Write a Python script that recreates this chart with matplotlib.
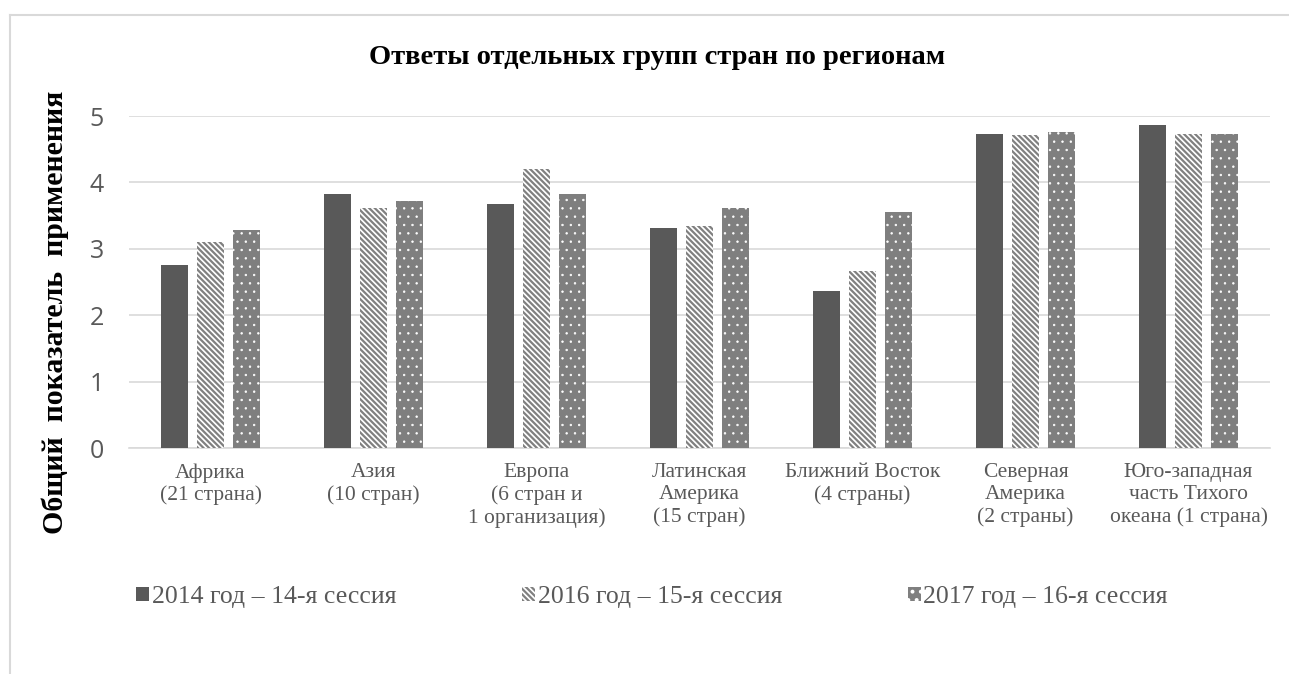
import matplotlib
matplotlib.use("Agg")
import matplotlib.pyplot as plt
from matplotlib.lines import Line2D
import numpy as np

# data
regions = [
    "Африка\n(21 страна)",
    "Азия\n(10 стран)",
    "Европа\n(6 стран и\n1 организация)",
    "Латинская\nАмерика\n(15 стран)",
    "Ближний Восток\n(4 страны)",
    "Северная\nАмерика\n(2 страны)",
    "Юго-западная\nчасть Тихого\nокеана (1 страна)",
]
series_names = [
    "2014 год – 14-я сессия",
    "2016 год – 15-я сессия",
    "2017 год – 16-я сессия",
]
vals_2014 = [2.76, 3.82, 3.68, 3.32, 2.36, 4.73, 4.86]
vals_2016 = [3.10, 3.62, 4.20, 3.34, 2.66, 4.71, 4.73]
vals_2017 = [3.28, 3.72, 3.82, 3.61, 3.55, 4.76, 4.73]

plt.rcParams['hatch.linewidth'] = 1.6
serif = ['Liberation Serif', 'DejaVu Serif']
grey_txt = '#595959'

fig = plt.figure(figsize=(12.89, 6.74), dpi=100)
ax = fig.add_axes([129 / 1289, 1 - 448 / 674, (1270 - 129) / 1289, (448 - 116) / 674])

x = np.arange(len(regions))
step = 0.22
width = 0.166

ax.bar(x - step, vals_2014, width, color='#595959', linewidth=0, label=series_names[0], zorder=3)
ax.bar(x, vals_2016, width, facecolor='white', edgecolor='#808080', hatch='\\\\\\\\\\\\',
       linewidth=0, label=series_names[1], zorder=3)
dots = ax.bar(x + step, vals_2017, width, facecolor='#7f7f7f', edgecolor='white', hatch='..',
              linewidth=0, label=series_names[2], zorder=3)
# small white dots, thinner outline than the stripes
for b in dots:
    if hasattr(b, 'set_hatch_linewidth'):
        b.set_hatch_linewidth(0.5)

ax.set_xlim(-0.5, len(regions) - 0.5)
ax.set_ylim(0, 5)
ax.set_yticks(range(6))
ax.yaxis.grid(True, color='#d9d9d9', linewidth=1.2, zorder=0)
ax.set_axisbelow(True)
for s in ['top', 'right', 'left']:
    ax.spines[s].set_visible(False)
ax.spines['bottom'].set_color('#d9d9d9')
ax.spines['bottom'].set_linewidth(1.2)
ax.tick_params(length=0)
ax.tick_params(axis='y', labelsize=18, labelcolor=grey_txt, pad=18)
for lab in ax.get_yticklabels():
    lab.set_family(['Open Sans', 'DejaVu Sans'])

ax.set_xticks(x)
ax.set_xticklabels(regions, fontsize=15.5, color=grey_txt, family=serif, linespacing=1.2)
ax.tick_params(axis='x', pad=11)

fig.text(657 / 1289, 1 - 57 / 674, "Ответы отдельных групп стран по регионам",
         ha='center', va='center', fontsize=20.5, fontweight='bold', family=serif)
fig.text(55 / 1289, 1 - 312 / 674, "Общий  показатель  применения",
         ha='center', va='center', rotation=90, fontsize=21.5, fontweight='bold', family=serif)

leg = fig.legend(loc='center', bbox_to_anchor=(652 / 1289, 1 - 597 / 674), ncol=3,
                 frameon=False, handlelength=0.5, handleheight=0.5, handletextpad=0.1,
                 columnspacing=4.9, prop={'family': serif, 'size': 18.5})
for t in leg.get_texts():
    t.set_color(grey_txt)

# outer frame (top and left edges visible in the reference)
fig.add_artist(Line2D([10 / 1289, 1], [1 - 15 / 674, 1 - 15 / 674], color='#d9d9d9', linewidth=1.5))
fig.add_artist(Line2D([10 / 1289, 10 / 1289], [0, 1 - 15 / 674], color='#d9d9d9', linewidth=1.5))

fig.savefig('out.png', dpi=100)
